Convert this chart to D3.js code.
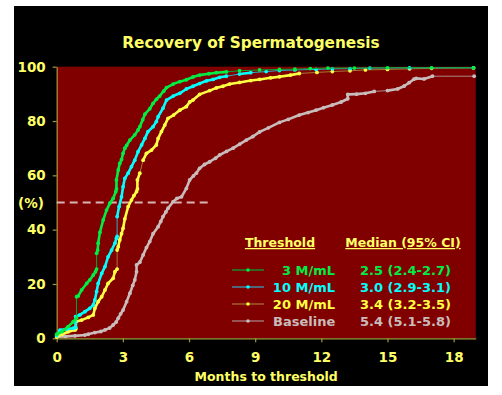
<!DOCTYPE html>
<html>
<head>
<meta charset="utf-8">
<script src="https://cdn.jsdelivr.net/npm/d3@7"></script>
<style>
  body { margin: 0; background: #fff; }
  svg { display: block; }
  text { font-family: "DejaVu Sans", Verdana, sans-serif; font-weight: bold; }
</style>
</head>
<body>
<svg class="container"></svg>
<script>
// months / cumulative % recovered
const t3Months = [0, 0.25, 0.52, 0.75, 0.9, 0.9, 0.98, 1.13, 1.36, 1.5, 1.66, 1.76, 1.81, 1.81, 1.86, 1.88, 1.96, 2.11, 2.26, 2.41, 2.56, 2.68, 2.71, 2.71, 2.79, 2.86, 2.94, 3.01, 3.09, 3.17, 3.32, 3.54, 3.69, 3.77, 3.9, 4.0, 4.22, 4.37, 4.52, 4.67, 4.85, 4.98, 5.28, 5.58, 5.88, 6.18, 6.48, 6.9, 7.24, 7.7, 8.29, 9.2, 10.1, 10.8, 11.5, 12.3, 13.5, 15, 17, 18.9];
const t3Pct = [1.5, 2.5, 4.3, 6.1, 7.5, 15.3, 15.6, 17.8, 20.2, 21.5, 23.3, 24.5, 25.5, 31.3, 32.5, 35, 39, 43.6, 47.2, 49.7, 51.5, 54, 55, 58.3, 62, 64.4, 65.8, 68.1, 70, 71, 73, 74.9, 76.7, 77.9, 80.5, 82.5, 84.5, 86.5, 88, 89.2, 91, 92.3, 93.6, 94.5, 95.2, 96.2, 96.9, 97.4, 97.8, 98.1, 98.5, 98.8, 99, 99.1, 99.3, 99.5, 99.5, 99.6, 99.6, 99.6];

const t10Months = [0, 0.15, 0.45, 0.75, 0.86, 0.86, 1.05, 1.28, 1.5, 1.66, 1.73, 1.81, 1.88, 2.04, 2.19, 2.33, 2.49, 2.64, 2.71, 2.74, 2.74, 2.83, 2.94, 3.01, 3.09, 3.24, 3.39, 3.54, 3.69, 3.85, 4.0, 4.14, 4.37, 4.52, 4.6, 4.82, 4.98, 5.28, 5.58, 5.88, 6.18, 6.48, 6.8, 7.09, 7.39, 7.69, 8.29, 8.8, 9.5, 10.1, 10.8, 11.76, 12.5, 13.3, 14.2, 16, 18.9];
const t10Pct = [1, 3, 3.4, 3.7, 4, 8, 8.6, 9.8, 11, 12.3, 14.1, 17.2, 20.2, 23.9, 26.4, 30, 32.5, 35, 36.8, 37.5, 44.8, 48.5, 52.1, 55.8, 58.9, 60.8, 63.2, 65.6, 68.7, 71.2, 73.6, 76.1, 77.9, 79.8, 81.6, 84.7, 87.7, 89.2, 90.2, 91.8, 92.8, 93.8, 94.8, 95.3, 96.1, 96.5, 97.3, 97.8, 98.2, 98.6, 98.8, 99, 99.2, 99.3, 99.5, 99.6, 99.6];

const t20Months = [0, 0.25, 0.52, 0.83, 0.87, 0.87, 1.13, 1.43, 1.66, 1.73, 1.88, 2.04, 2.19, 2.33, 2.56, 2.64, 2.74, 2.74, 2.79, 2.86, 2.94, 3.01, 3.09, 3.24, 3.39, 3.5, 3.62, 3.66, 3.66, 3.77, 3.92, 4.07, 4.3, 4.52, 4.6, 4.75, 4.9, 5.05, 5.3, 5.58, 5.88, 6.03, 6.18, 6.48, 6.94, 7.24, 7.54, 7.84, 8.29, 8.8, 9.2, 9.7, 10.1, 10.6, 11, 11.8, 12.5, 13.3, 14, 15, 16, 17, 18.9];
const t20Pct = [0.5, 1.5, 2.4, 3.1, 3.5, 6.1, 6.7, 7.7, 8.6, 11, 13.5, 15.3, 17.8, 20.2, 22.1, 24.5, 25.5, 32.5, 33.7, 36.2, 38.5, 40.5, 44, 48.5, 50.9, 52.5, 54, 55, 58.3, 60.8, 65.6, 68.1, 69.3, 71.2, 73.6, 76.1, 78.5, 81, 82.2, 84, 85.3, 87, 87.7, 89.8, 91.2, 92.2, 92.8, 93.6, 94.2, 94.9, 95.3, 95.9, 96.3, 96.9, 97.5, 97.9, 98.2, 98.5, 98.8, 99, 99.2, 99.4, 99.6];

const baseMonths = [0, 0.4, 0.83, 1.28, 1.43, 1.73, 2.0, 2.19, 2.4, 2.56, 2.7, 2.79, 2.9, 3.01, 3.17, 3.32, 3.45, 3.54, 3.62, 3.62, 3.77, 3.92, 4.07, 4.22, 4.37, 4.6, 4.72, 4.82, 4.95, 5.05, 5.28, 5.45, 5.66, 5.88, 6.03, 6.2, 6.33, 6.48, 6.7, 6.94, 7.2, 7.39, 7.7, 8.0, 8.3, 8.6, 8.9, 9.2, 9.6, 10.1, 10.5, 11, 11.4, 11.76, 12.1, 12.5, 12.9, 13.2, 13.2, 13.6, 14.0, 14.4, 15.0, 15.46, 15.76, 15.98, 16.2, 16.3, 16.66, 17.04, 18.93];
const basePct = [0.6, 0.7, 0.9, 1.2, 1.5, 2.1, 2.5, 3.1, 3.8, 4.9, 6, 7.4, 9, 10.4, 13.5, 16.6, 19.5, 21.5, 24.5, 27, 28, 30.7, 33.4, 35.6, 38.5, 41.1, 43, 44.8, 46.5, 47.9, 50.3, 51.5, 52.1, 55.2, 58.3, 59.8, 60.8, 62.6, 64, 65, 66.3, 67.5, 68.8, 70, 71.5, 73, 74.3, 76, 77.5, 79.5, 80.6, 82.2, 83.1, 84, 84.9, 85.9, 87, 88.2, 89.8, 89.9, 90.2, 90.9, 91.2, 91.8, 92.9, 94.1, 95.4, 95.7, 95.5, 96.5, 96.5];

const thresholdLabels = ["3 M/mL", "10 M/mL", "20 M/mL", "Baseline"];
const medianLabels = ["2.5 (2.4-2.7)", "3.0 (2.9-3.1)", "3.4 (3.2-3.5)", "5.4 (5.1-5.8)"];
const xTicks = [0, 3, 6, 9, 12, 15, 18];
const yTicks = [0, 20, 40, 60, 80, 100];

const width = 502;
const height = 395;
const yellow = "#ffff66";

const series = [
  { months: t3Months, pct: t3Pct, mark: "#00ee44", line: "#00aa33" },
  { months: t10Months, pct: t10Pct, mark: "#00ffff", line: "#33aacc" },
  { months: t20Months, pct: t20Pct, mark: "#ffff44", line: "#aa7733" },
  { months: baseMonths, pct: basePct, mark: "#c8bcbc", line: "#a88c8c" }
];

const svg = d3.select(".container").attr("width", width).attr("height", height);

// black slide frame
svg.append("rect").attr("x", 14).attr("y", 6).attr("width", 474).attr("height", 380).attr("fill", "#000");

const xScale = d3.scaleLinear().domain([0, 19]).range([56.7, 475.7]);
const yScale = d3.scaleLinear().domain([0, 100]).range([338.3, 66.7]);

svg.append("rect")
  .attr("x", xScale(0)).attr("y", yScale(100))
  .attr("width", xScale(19) - xScale(0)).attr("height", yScale(0) - yScale(100))
  .attr("fill", "#800000");

svg.append("text")
  .attr("x", 251).attr("y", 48)
  .attr("text-anchor", "middle")
  .attr("fill", yellow).attr("font-size", 15.3)
  .text("Recovery of Spermatogenesis");

const xAxis = d3.axisBottom(xScale).tickValues(xTicks).tickSize(4).tickSizeOuter(0);
const yAxis = d3.axisLeft(yScale).tickValues(yTicks).tickSize(4).tickSizeOuter(0);

const gx = svg.append("g").attr("transform", `translate(0, ${yScale(0)})`).attr("id", "x-axis").call(xAxis);
const gy = svg.append("g").attr("transform", `translate(${xScale(0)}, 0)`).attr("id", "y-axis").call(yAxis);

[gx, gy].forEach((g) => {
  g.selectAll("path, line").attr("stroke", "#a09a3a").attr("stroke-width", 1.2);
  g.selectAll("text").attr("fill", yellow).attr("font-size", 13.5).attr("font-family", null);
});
gx.selectAll("text").attr("dy", "1.25em");
gy.selectAll("text").attr("x", -11);

svg.append("text")
  .attr("x", 31).attr("y", yScale(50) + 5)
  .attr("text-anchor", "middle")
  .attr("fill", yellow).attr("font-size", 13.5)
  .text("(%)");

svg.append("text")
  .attr("x", (xScale(0) + xScale(19)) / 2).attr("y", 381)
  .attr("text-anchor", "middle")
  .attr("fill", yellow).attr("font-size", 12.5)
  .text("Months to threshold");

// median reference line
svg.append("line")
  .attr("x1", xScale(0)).attr("x2", xScale(7))
  .attr("y1", yScale(50)).attr("y2", yScale(50))
  .attr("stroke", "#d8b4b4").attr("stroke-width", 2)
  .attr("stroke-dasharray", "8,5");

// curves: thin connector, bright thick where points are close, markers on points
series.slice().reverse().forEach((s) => {
  const pts = s.months.map((m, i) => [xScale(m), yScale(s.pct[i])]);
  const g = svg.append("g");
  g.append("path")
    .attr("d", d3.line()(pts))
    .attr("fill", "none").attr("stroke", s.line).attr("stroke-width", 1);
  const segs = d3.pairs(pts).filter(([a, b]) => Math.hypot(b[0] - a[0], b[1] - a[1]) < 13);
  g.selectAll("line.seg")
    .data(segs)
    .enter()
    .append("line")
    .attr("x1", (d) => d[0][0]).attr("y1", (d) => d[0][1])
    .attr("x2", (d) => d[1][0]).attr("y2", (d) => d[1][1])
    .attr("stroke", s.mark).attr("stroke-width", 2.6).attr("stroke-linecap", "round");
  g.selectAll("circle")
    .data(pts)
    .enter()
    .append("circle")
    .attr("cx", (d) => d[0]).attr("cy", (d) => d[1])
    .attr("r", 1.9).attr("fill", s.mark);
});

// legend
svg.append("text")
  .attr("x", 280).attr("y", 247)
  .attr("text-anchor", "middle").attr("fill", yellow).attr("font-size", 12.5)
  .attr("text-decoration", "underline")
  .text("Threshold");
svg.append("text")
  .attr("x", 403).attr("y", 247)
  .attr("text-anchor", "middle").attr("fill", yellow).attr("font-size", 12.5)
  .attr("text-decoration", "underline")
  .text("Median (95% CI)");

const rowY = [270, 287, 304, 321];
const legend = svg.selectAll("g.leg")
  .data(series)
  .enter()
  .append("g")
  .attr("class", "leg")
  .attr("transform", (d, i) => `translate(0, ${rowY[i]})`);

legend.append("line")
  .attr("x1", 232).attr("x2", 264)
  .attr("stroke", (d) => d.line).attr("stroke-width", 1.2);
legend.append("circle")
  .attr("cx", 248).attr("r", 1.8).attr("fill", (d) => d.mark);
legend.append("text")
  .attr("x", (d, i) => (i === 3 ? 273 : 335)).attr("y", 5)
  .attr("text-anchor", (d, i) => (i === 3 ? "start" : "end"))
  .attr("fill", (d) => d.mark).attr("font-size", 13)
  .text((d, i) => thresholdLabels[i]);
legend.append("text")
  .attr("x", 360).attr("y", 5)
  .attr("fill", (d) => d.mark).attr("font-size", 13)
  .text((d, i) => medianLabels[i]);
</script>
</body>
</html>
